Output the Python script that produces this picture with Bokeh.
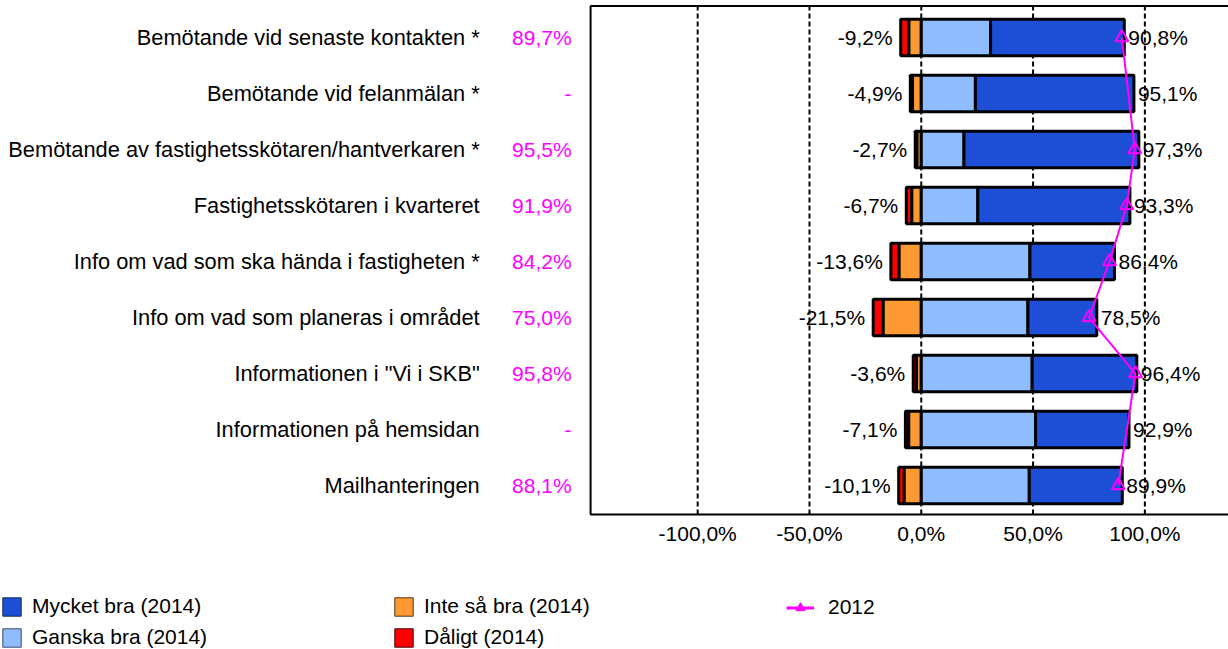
import numpy as np
from bokeh.plotting import figure
from bokeh.models import (ColumnDataSource, BoxAnnotation, Legend,
                          LegendItem, Range1d)
from bokeh.core.properties import value
from bokeh.embed import file_html
from bokeh.resources import INLINE

# ---------------- data ----------------
categories = [
    "Bemötande vid senaste kontakten *",
    "Bemötande vid felanmälan *",
    "Bemötande av fastighetsskötaren/hantverkaren *",
    "Fastighetsskötaren i kvarteret",
    "Info om vad som ska hända i fastigheten *",
    "Info om vad som planeras i området",
    'Informationen i "Vi i SKB"',
    "Informationen på hemsidan",
    "Mailhanteringen",
]
mycket_bra = [59.8, 70.9, 78.2, 68.0, 37.8, 30.8, 46.8, 41.8, 41.6]
ganska_bra = [31.0, 24.2, 19.1, 25.3, 48.6, 47.7, 49.6, 51.1, 48.3]
inte_sa_bra = [5.5, 3.9, 1.9, 4.2, 9.9, 17.0, 2.1, 5.6, 7.6]
daligt = [3.7, 1.0, 0.8, 2.5, 3.7, 4.5, 1.5, 1.5, 2.5]
values_2012 = [89.7, None, 95.5, 91.9, 84.2, 75.0, 95.8, None, 88.1]
x_ticks = [-100, -50, 0, 50, 100]
x_tick_labels = ["-100,0%", "-50,0%", "0,0%", "50,0%", "100,0%"]
legend_labels = ["Mycket bra (2014)", "Ganska bra (2014)",
                 "Inte så bra (2014)", "Dåligt (2014)", "2012"]

# ---------------- style / layout ----------------
FONT = "Liberation Sans"
FS = "21px"
FS_CAT = "21.8px"
C_MYCKET = "#1C4FD6"
C_GANSKA = "#8FBCFF"
C_INTE = "#FF9933"
C_DALIGT = "#FF0000"
C_2012 = "#FF00FF"
CAT_X = -197.5      # right edge of category labels (data units)
PREV_X = -156.4     # right edge of 2012 value labels
BOX_LEFT = -147.9
BOX_TOP = 8.563
BOX_BOTTOM = -0.518


def pct(v):
    return f"{v:.1f}".replace(".", ",") + "%"


n = len(categories)
ypos = np.array([n - 1 - i for i in range(n)], dtype=float)
mb = np.array(mycket_bra)
gb = np.array(ganska_bra)
isb = np.array(inte_sa_bra)
dl = np.array(daligt)
pos_tot = gb + mb
neg_tot = isb + dl

src = ColumnDataSource(dict(
    y=ypos,
    g_l=np.zeros(n), g_r=gb,
    m_l=gb, m_r=pos_tot,
    i_l=-isb, i_r=np.zeros(n),
    d_l=-neg_tot, d_r=-isb,
    neg_x=-neg_tot, pos_x=pos_tot,
    neg_lab=["-" + pct(v) for v in neg_tot],
    pos_lab=[pct(v) for v in pos_tot],
    cat=categories,
    cat_x=[CAT_X] * n,
    prev_x=[PREV_X] * n,
    prev_lab=[pct(v) if v is not None else "-" for v in values_2012],
))

W, HGT = 1228, 649
p = figure(width=W, height=HGT, output_backend="svg", toolbar_location=None,
           x_range=Range1d(-411.8, 137.4), y_range=Range1d(-2.928, 8.661),
           x_axis_location=None, y_axis_location=None,
           min_border_left=0, min_border_right=0, min_border_top=0,
           min_border_bottom=0)
p.outline_line_color = None
p.background_fill_color = "white"
p.xgrid.visible = False
p.ygrid.visible = False

# dashed gridlines at the tick values, inside the plot-area frame
p.segment(x0=x_ticks, x1=x_ticks, y0=[BOX_BOTTOM] * len(x_ticks),
          y1=[BOX_TOP] * len(x_ticks), line_color="black",
          line_dash="5 3", line_width=2)

H = 0.65
LW = 3
p.hbar(y="y", left="d_l", right="d_r", height=H, source=src,
       fill_color=C_DALIGT, line_color="black", line_width=LW)
p.hbar(y="y", left="i_l", right="i_r", height=H, source=src,
       fill_color=C_INTE, line_color="black", line_width=LW)
p.hbar(y="y", left="g_l", right="g_r", height=H, source=src,
       fill_color=C_GANSKA, line_color="black", line_width=LW)
p.hbar(y="y", left="m_l", right="m_r", height=H, source=src,
       fill_color=C_MYCKET, line_color="black", line_width=LW)

# 2012 line (connects the available points)
ly = [ypos[i] for i, v in enumerate(values_2012) if v is not None]
lx = [v for v in values_2012 if v is not None]
p.line(x=lx, y=ly, line_color=C_2012, line_width=2)
p.scatter(x=lx, y=ly, marker="triangle", size=13, line_color=C_2012,
          fill_color=None, line_width=2)

# labels
p.text(x="neg_x", y="y", text="neg_lab", source=src, x_offset=-8,
       text_align="right", text_baseline="middle", text_font=value(FONT),
       text_font_size=FS, text_color="black")
p.text(x="pos_x", y="y", text="pos_lab", source=src, x_offset=4,
       text_align="left", text_baseline="middle", text_font=value(FONT),
       text_font_size=FS, text_color="black")
p.text(x="cat_x", y="y", text="cat", source=src,
       text_align="right", text_baseline="middle", text_font=value(FONT),
       text_font_size=FS_CAT, text_color="black")
p.text(x="prev_x", y="y", text="prev_lab", source=src,
       text_align="right", text_baseline="middle", text_font=value(FONT),
       text_font_size=FS, text_color=C_2012)

# x tick labels
p.text(x=x_ticks, y=[BOX_BOTTOM] * len(x_ticks), text=x_tick_labels,
       y_offset=7, text_align="center", text_baseline="top",
       text_font=value(FONT), text_font_size=FS, text_color="black")

# plot-area frame
p.add_layout(BoxAnnotation(left=BOX_LEFT, right=1000, top=BOX_TOP,
                           bottom=BOX_BOTTOM, fill_alpha=0, line_color="black",
                           line_alpha=1, line_width=2, level="overlay"))

# hidden proxy renderers used only for the legend swatches
r_m = p.hbar(y="y", left="m_l", right="m_r", height=H, source=src,
             fill_color=C_MYCKET, line_color="#1a2a55", line_width=1,
             visible=False)
r_g = p.hbar(y="y", left="g_l", right="g_r", height=H, source=src,
             fill_color=C_GANSKA, line_color="#3a4a66", line_width=1,
             visible=False)
r_i = p.hbar(y="y", left="i_l", right="i_r", height=H, source=src,
             fill_color=C_INTE, line_color="#553311", line_width=1,
             visible=False)
r_d = p.hbar(y="y", left="d_l", right="d_r", height=H, source=src,
             fill_color=C_DALIGT, line_color="#440000", line_width=1,
             visible=False)
r_l = p.line(x=lx, y=ly, line_color=C_2012, line_width=3, visible=False)
r_s = p.scatter(x=lx, y=ly, marker="triangle", size=12, line_color=C_2012,
                fill_color=C_2012, line_width=1, visible=False)


def make_legend(items, loc, gw=23):
    return Legend(items=items, location=loc, orientation="vertical",
                  padding=0, margin=0, border_line_color=None,
                  background_fill_alpha=0, label_text_font=FONT,
                  label_text_font_size=FS, label_text_color="black",
                  glyph_width=gw, glyph_height=23,
                  label_height=23, label_standoff=9, spacing=7)


leg1 = make_legend([LegendItem(label=legend_labels[0], renderers=[r_m]),
                    LegendItem(label=legend_labels[1], renderers=[r_g])], (0, 0))
leg2 = make_legend([LegendItem(label=legend_labels[2], renderers=[r_i]),
                    LegendItem(label=legend_labels[3], renderers=[r_d])], (392, 0))
leg3 = make_legend([LegendItem(label=legend_labels[4], renderers=[r_l, r_s])],
                   (786, 30), gw=28)
leg3.label_standoff = 14
for lg in (leg1, leg2, leg3):
    p.add_layout(lg, "center")

open("out.html", "w").write(file_html(p, INLINE))
